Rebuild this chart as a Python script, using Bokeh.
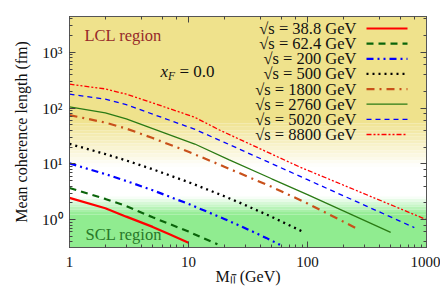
import math
from bokeh.plotting import figure
from bokeh.models import Range1d, LogAxis, BoxAnnotation, Label, CustomJSTickFormatter
from bokeh.embed import file_html
from bokeh.resources import INLINE

# ---------------- data ----------------
energies = ["38.8", "62.4", "200", "500", "1800", "2760", "5020", "8800"]

m_388 = [1, 2, 3, 5, 7, 10]
l_388 = [2.45, 1.6, 1.13, 0.74, 0.54, 0.385]

m_624 = [1, 2, 3, 5, 10, 17.5]
l_624 = [3.7, 2.35, 1.75, 1.1, 0.61, 0.36]

m_200 = [1, 2, 3, 5, 10, 20, 30, 45, 60]
l_200 = [10.2, 6.55, 4.93, 3.36, 1.91, 1.03, 0.70, 0.47, 0.345]

m_500 = [1, 2, 3, 5, 10, 20, 30, 50, 94]
l_500 = [22.8, 15.0, 11.5, 8.0, 4.7, 2.63, 1.82, 1.12, 0.59]

m_1800 = [1, 2, 3, 5, 10, 20, 50, 100, 264]
l_1800 = [75, 55, 43, 29, 16.5, 8.9, 3.87, 1.95, 0.68]

m_2760 = [1, 2, 3, 5, 11.3, 22, 50, 100, 200, 500]
l_2760 = [105, 82, 64, 43, 22.7, 11.8, 5.4, 2.8, 1.43, 0.59]

m_5020 = [1, 2, 3, 5, 11.2, 20, 50, 100, 200, 400, 790]
l_5020 = [178, 145, 115, 78, 42, 24.3, 10.1, 5.2, 2.68, 1.38, 0.72]

m_8800 = [1, 2, 3, 5, 11.2, 18.2, 41.9, 86, 200, 500, 1000]
l_8800 = [269, 221, 178, 124, 69, 40.5, 17.8, 8.8, 4.17, 1.85, 1.0]

x_ticks = [1, 10, 100, 1000]
y_ticks = [1, 10, 100, 1000]

# ---------------- styles ----------------
series = [
    (m_388, l_388, "#ff0000", 2.2, "solid"),
    (m_624, l_624, "#0a640a", 2.2, "7 5"),
    (m_200, l_200, "#0000ff", 2.2, "7 4 2 4 2 4"),
    (m_500, l_500, "#000000", 2.3, "2 4"),
    (m_1800, l_1800, "#c8501a", 2.2, "8 5 2 5"),
    (m_2760, l_2760, "#2a7a14", 1.3, "solid"),
    (m_5020, l_5020, "#0000ff", 1.3, "5 4"),
    (m_8800, l_8800, "#ff0000", 1.3, "5 2 2 2 2 2"),
]

XMIN, XMAX = 1, 1000
YMIN, YMAX = 0.316, 4400
FRAME_L, FRAME_T, FRAME_W, FRAME_H = 70, 17, 357, 231
SERIF = "Liberation Serif"


def dx(px):
    f = (px - FRAME_L) / FRAME_W
    return 10 ** (math.log10(XMIN) + f * (math.log10(XMAX) - math.log10(XMIN)))


def dy(py):
    f = (py - FRAME_T) / FRAME_H
    return 10 ** (math.log10(YMAX) - f * (math.log10(YMAX) - math.log10(YMIN)))


p = figure(width=440, height=288, x_axis_type="log", y_axis_type="log",
           x_range=Range1d(XMIN, XMAX), y_range=Range1d(YMIN, YMAX),
           output_backend="svg", toolbar_location=None,
           min_border_left=69, min_border_right=14, min_border_top=16, min_border_bottom=41)
p.background_fill_color = "white"
p.border_fill_color = "white"
p.xgrid.visible = False
p.ygrid.visible = False
p.outline_line_color = "#555555"

# ---------------- background regions ----------------
khaki = (239, 226, 140)
green = (144, 236, 144)
white = (255, 255, 255)


def mix(c1, c2, t):
    return "#%02x%02x%02x" % tuple(int(round(a + (b - a) * t)) for a, b in zip(c1, c2))


LCL_SOLID, LCL_END = 61.0, 8.8
SCL_START, SCL_SOLID = 2.6, 1.23
p.add_layout(BoxAnnotation(bottom=LCL_SOLID, fill_color=mix(khaki, khaki, 0), fill_alpha=1,
                           line_alpha=0, level="underlay"))
n = 14
for i in range(n):
    a = math.log10(LCL_SOLID) - i * (math.log10(LCL_SOLID) - math.log10(LCL_END)) / n
    b = math.log10(LCL_SOLID) - (i + 1) * (math.log10(LCL_SOLID) - math.log10(LCL_END)) / n
    p.add_layout(BoxAnnotation(top=10 ** a, bottom=10 ** b, fill_color=mix(khaki, white, (i + 0.5) / n),
                               fill_alpha=1, line_alpha=0, level="underlay"))
n = 7
for i in range(n):
    a = math.log10(SCL_START) - i * (math.log10(SCL_START) - math.log10(SCL_SOLID)) / n
    b = math.log10(SCL_START) - (i + 1) * (math.log10(SCL_START) - math.log10(SCL_SOLID)) / n
    p.add_layout(BoxAnnotation(top=10 ** a, bottom=10 ** b, fill_color=mix(white, green, (i + 0.5) / n),
                               fill_alpha=1, line_alpha=0, level="underlay"))
p.add_layout(BoxAnnotation(top=SCL_SOLID, fill_color=mix(green, green, 0), fill_alpha=1,
                           line_alpha=0, level="underlay"))

# ---------------- curves ----------------
for m, l, col, w, dash in series:
    p.line(m, l, line_color=col, line_width=w, line_dash=dash)

# ---------------- legend (text left, sample right) ----------------
for i, (e, (m, l, col, w, dash)) in enumerate(zip(energies, series)):
    row = 29 + 15.14 * i
    p.add_layout(Label(x=dx(357), y=dy(row), text="\u221as = %s GeV" % e, text_align="right",
                       text_baseline="middle", text_font=SERIF, text_font_size="16.5px",
                       text_color="#111111"))
    p.line([dx(367), dx(408)], [dy(row), dy(row)], line_color=col, line_width=w, line_dash=dash)

# ---------------- annotations ----------------
p.add_layout(Label(x=dx(85), y=dy(36), text="LCL region", text_baseline="middle",
                   text_font=SERIF, text_font_size="16.5px", text_color="#962a2a"))
p.add_layout(Label(x=dx(86), y=dy(235), text="SCL region", text_baseline="middle",
                   text_font=SERIF, text_font_size="16.5px", text_color="#287828"))
p.add_layout(Label(x=dx(161), y=dy(72), text="x", text_baseline="middle", text_font=SERIF,
                   text_font_size="17px", text_font_style="italic", text_color="#111111"))
p.add_layout(Label(x=dx(168.5), y=dy(76.5), text="F", text_baseline="middle", text_font=SERIF,
                   text_font_size="11.5px", text_font_style="italic", text_color="#111111"))
p.add_layout(Label(x=dx(180), y=dy(72), text="= 0.0", text_baseline="middle", text_font=SERIF,
                   text_font_size="17px", text_color="#111111"))

# ---------------- axes ----------------
xfmt = CustomJSTickFormatter(code="return String(Math.round(tick));")
yfmt = CustomJSTickFormatter(code="""
const e = Math.round(Math.log10(tick));
const sup = {"0":"\u2070","1":"\u00b9","2":"\u00b2","3":"\u00b3","-":"\u207b"};
return "10" + String(e).split("").map(c => sup[c]).join("");
""")
blank = CustomJSTickFormatter(code="return ' ';")


def style_axis(ax):
    ax.axis_line_color = "#555555"
    ax.major_tick_line_color = "#444444"
    ax.minor_tick_line_color = "#444444"
    ax.major_tick_in = 6
    ax.major_tick_out = 0
    ax.minor_tick_in = 3
    ax.minor_tick_out = 0
    ax.major_label_text_font = SERIF
    ax.major_label_text_font_size = "15.5px"
    ax.major_label_text_color = "#111111"
    ax.axis_label_text_font = SERIF
    ax.axis_label_text_font_size = "16px"
    ax.axis_label_text_font_style = "normal"
    ax.axis_label_text_color = "#111111"


style_axis(p.xaxis[0])
style_axis(p.yaxis[0])
p.xaxis[0].formatter = xfmt
p.yaxis[0].formatter = yfmt
p.xaxis[0].major_label_text_font_size = "15px"
p.xaxis[0].major_label_standoff = 9
p.xaxis[0].axis_label_standoff = -2
p.xaxis[0].axis_label = "M\u2097\u2097\u0304 (GeV)"
p.yaxis[0].major_label_standoff = 7
p.yaxis[0].axis_label_standoff = 9
p.yaxis[0].axis_label = "Mean coherence length (fm)"

for loc in ("above", "right"):
    ax = LogAxis(formatter=blank)
    style_axis(ax)
    ax.major_label_text_font_size = "1px"
    ax.major_label_text_alpha = 0
    ax.major_label_standoff = 0
    p.add_layout(ax, loc)

open("out.html", "w").write(file_html(p, INLINE))
